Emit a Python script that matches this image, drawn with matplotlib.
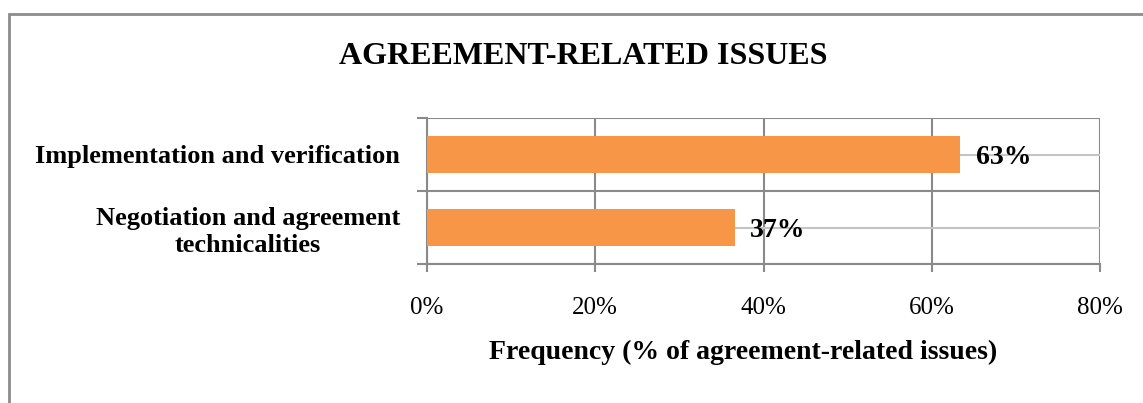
import matplotlib
matplotlib.use("Agg")
import matplotlib.pyplot as plt
from matplotlib.patches import Rectangle

categories = ["Negotiation and agreement\ntechnicalities", "Implementation and verification"]
values = [36.6, 63.4]
value_labels = ["37%", "63%"]
xticks = [0, 20, 40, 60, 80]
xtick_labels = ["0%", "20%", "40%", "60%", "80%"]
title = "AGREEMENT-RELATED ISSUES"
xlabel = "Frequency (% of agreement-related issues)"

plt.rcParams['font.family'] = ['Liberation Serif', 'DejaVu Serif']

W, H = 1143, 403
fig = plt.figure(figsize=(W / 100, H / 100), dpi=100)

def fx(px):
    return px / W

def fy(py):
    return 1 - py / H

ax = fig.add_axes([fx(427), fy(264), fx(1100) - fx(427), fy(118) - fy(264)])

dark = '#8A8A8A'
light = '#C4C4C4'
bar_color = '#F79646'

ypos = list(range(len(categories)))
ax.barh(ypos, values, height=0.5, color=bar_color, zorder=3)

ax.set_xlim(0, 80)
ax.set_ylim(-0.5, len(categories) - 0.5)

ax.set_xticks(xticks)
ax.set_xticklabels(xtick_labels, fontsize=18)
ax.tick_params(axis='x', length=6, width=1.5, color=dark, pad=18)

ax.set_yticks([i - 0.5 for i in range(len(categories) + 1)])
ax.set_yticklabels([])
ax.set_yticks(ypos, minor=True)
ax.set_yticklabels(categories, minor=True, fontsize=19, fontweight='bold',
                   multialignment='center', linespacing=1.2)
ax.tick_params(axis='y', which='major', length=7, width=1.5, color=dark)
ax.tick_params(axis='y', which='minor', length=0, pad=19.5)

ax.grid(axis='x', which='major', color=dark, linewidth=1.5, zorder=0)
ax.grid(axis='y', which='major', color=dark, linewidth=1.5, zorder=0)
ax.grid(axis='y', which='minor', color=light, linewidth=1.5, zorder=0)

for s in ['top', 'right']:
    ax.spines[s].set_visible(False)
ax.spines['left'].set_color(dark)
ax.spines['left'].set_linewidth(1.5)
ax.spines['bottom'].set_color(dark)
ax.spines['bottom'].set_linewidth(1.5)
ax.set_axisbelow(True)

for y, v, lab in zip(ypos, values, value_labels):
    ax.annotate(lab, (v, y), xytext=(11, -2), textcoords='offset points',
                ha='left', va='center', fontsize=20, fontweight='bold', zorder=4)

fig.text(fx(583), fy(57), title, ha='center', va='center', fontsize=23, fontweight='bold')
fig.text(fx(743), fy(352), xlabel, ha='center', va='center', fontsize=20, fontweight='bold')

fig.patches.append(Rectangle((fx(9), fy(420)), 1.1, fy(14) - fy(420), transform=fig.transFigure,
                             fill=False, edgecolor='#8C8C8C', linewidth=2))

fig.savefig("out.png", dpi=100)
